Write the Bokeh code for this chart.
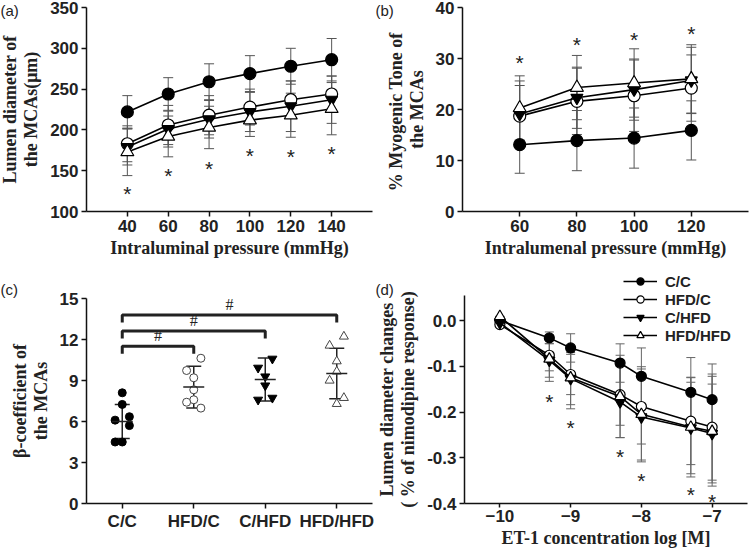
from bokeh.plotting import figure
from bokeh.models import (Range1d, FixedTicker, Whisker, TeeHead, ColumnDataSource,
                          Label, Legend, LegendItem, NumeralTickFormatter)
from bokeh.layouts import column, row
from bokeh.embed import file_html
from bokeh.resources import INLINE
from bokeh.core.properties import value

groups = ["C/C", "HFD/C", "C/HFD", "HFD/HFD"]

# ---------- panel (a) ----------
a_pressure = [40, 60, 80, 100, 120, 140]
a_cc = [222, 244, 259, 269, 278, 286]
a_cc_sd = [20, 20, 22, 22, 22, 26]
a_hfdc = [183, 206, 218, 228, 237, 244]
a_hfdc_sd = [22, 24, 24, 22, 23, 22]
a_chfd = [179, 201, 213, 222, 229, 237]
a_chfd_sd = [22, 22, 23, 24, 31, 29]
a_hfdhfd = [173, 192, 203, 212, 218, 226]
a_hfdhfd_sd = [29, 25, 26, 20, 27, 32]
a_star = [129, 151, 160, 176, 175, 178]
a_yticks = [100, 150, 200, 250, 300, 350]

# ---------- panel (b) ----------
b_pressure = [60, 80, 100, 120]
b_cc = [13.1, 13.9, 14.4, 15.9]
b_cc_sd = [5.6, 5.9, 5.9, 5.8]
b_hfdc = [18.7, 21.6, 22.7, 24.2]
b_hfdc_sd = [6.0, 6.5, 7.0, 6.5]
b_chfd = [19.1, 22.3, 23.9, 25.7]
b_chfd_sd = [6.5, 6.0, 6.0, 6.5]
b_hfdhfd = [20.3, 24.3, 25.2, 26.0]
b_hfdhfd_sd = [6.3, 6.3, 6.7, 6.7]
b_star = [30.3, 34.0, 35.0, 36.0]
b_yticks = [0, 10, 20, 30, 40]

# ---------- panel (c) ----------
c_cc = [8.1, 7.25, 6.1, 6.35, 5.7, 4.5, 4.5]
c_cc_jit = [0, 0, -1, 1, 1, -1, 0]
c_hfdc = [10.63, 9.73, 9.2, 8.32, 7.59, 7.41, 6.98]
c_hfdc_jit = [1, -1, 0, 0, 0, -1, 1]
c_chfd = [10.59, 9.93, 9.29, 8.63, 7.59, 7.73]
c_chfd_jit = [1, -1, 0, 0, -1, 1]
c_hfdhfd = [12.22, 11.56, 10.41, 9.66, 9.0, 7.73, 7.29]
c_hfdhfd_jit = [1, -1, 0, 0, -1, 1, 0]
c_mean = [6.0, 8.52, 9.07, 9.51]
c_sd = [1.25, 1.53, 1.57, 1.85]
c_bracket_to = [2, 3, 4]
c_bracket_level = [11.5, 12.63, 13.8]
c_yticks = [0, 3, 6, 9, 12, 15]

# ---------- panel (d) ----------
d_conc = [-10, -9.301, -9, -8.301, -8, -7.301, -7]
d_cc = [0.0, -0.038, -0.060, -0.093, -0.122, -0.157, -0.173]
d_cc_sd = [0, 0.013, 0.031, 0.042, 0.062, 0.076, 0.078]
d_hfdc = [-0.009, -0.076, -0.118, -0.162, -0.188, -0.220, -0.233]
d_hfdc_sd = [0, 0.034, 0.044, 0.067, 0.082, 0.095, 0.116]
d_chfd = [-0.005, -0.087, -0.127, -0.178, -0.211, -0.235, -0.247]
d_chfd_sd = [0, 0.037, 0.057, 0.078, 0.094, 0.100, 0.108]
d_hfdhfd = [0.009, -0.084, -0.125, -0.166, -0.205, -0.233, -0.242]
d_hfdhfd_sd = [0, 0.049, 0.068, 0.090, 0.104, 0.109, 0.120]
d_star_x = [-9.301, -9, -8.301, -8, -7.301, -7]
d_star = [-0.164, -0.220, -0.284, -0.336, -0.367, -0.382]
d_xticks = [-10, -9, -8, -7]
d_yticks = [-0.4, -0.3, -0.2, -0.1, 0.0]

STYLE = {
    "C/C": ("circle", "black"),
    "HFD/C": ("circle", "white"),
    "C/HFD": ("inverted_triangle", "black"),
    "HFD/HFD": ("triangle", "white"),
}

SANS = "Liberation Sans"
SERIF = "Liberation Serif"


def make_fig(W, H, box, xlim, ylim, ybounds=None):
    """Frame covers the whole canvas; axes are pinned at the plot-area edges."""
    L, R, T, B = box
    x0, x1 = xlim
    y0, y1 = ylim
    sx = (x1 - x0) / (R - L)
    sy = (y1 - y0) / (B - T)
    p = figure(width=W, height=H,
               x_range=Range1d(x0 - L * sx, x1 + (W - R) * sx),
               y_range=Range1d(y0 - (H - B) * sy, y1 + T * sy),
               output_backend="svg", toolbar_location=None, min_border=0)
    p.title.visible = False
    p.outline_line_color = None
    p.xgrid.visible = False
    p.ygrid.visible = False
    p.xaxis[0].fixed_location = y0
    p.xaxis[0].bounds = (x0, x1)
    p.yaxis[0].fixed_location = x0
    p.yaxis[0].bounds = ybounds if ybounds is not None else (y0, y1)
    for ax in (p.xaxis[0], p.yaxis[0]):
        ax.axis_line_width = 1.5
        ax.axis_line_color = "#111111"
        ax.major_tick_line_color = "#111111"
        ax.major_tick_line_width = 1.5
        ax.major_tick_out = 5
        ax.major_tick_in = 0
        ax.minor_tick_line_color = None
        ax.major_label_standoff = 3
        ax.major_label_text_font = SANS
        ax.major_label_text_font_style = "bold"
        ax.major_label_text_font_size = "17px"
        ax.major_label_text_color = "#222222"
        ax.axis_label_text_font = SERIF
        ax.axis_label_text_font_style = "bold"
        ax.axis_label_text_font_size = "18px"
        ax.axis_label_text_color = "#222222"
        ax.axis_label_standoff = 3
    p.yaxis[0].axis_label_text_line_height = 1.05
    p.yaxis[0].axis_label_standoff = 6

    def to_data(cx, cy):
        return (p.x_range.start + cx * sx, p.y_range.end - cy * sy)
    return p, to_data


def series(p, x, y, sd, grp, size, cap=10, err="#555555"):
    marker, fill = STYLE[grp]
    src = ColumnDataSource(dict(x=x, y=y,
                                lo=[v - s for v, s in zip(y, sd)],
                                hi=[v + s for v, s in zip(y, sd)]))
    wk = Whisker(base="x", upper="hi", lower="lo", source=src, level="underlay",
                 line_color=err, line_width=1,
                 upper_head=TeeHead(size=cap, line_color=err, line_width=1),
                 lower_head=TeeHead(size=cap, line_color=err, line_width=1))
    p.add_layout(wk)
    r1 = p.line("x", "y", source=src, line_color="black", line_width=1.6)
    r2 = p.scatter("x", "y", source=src, marker=marker, size=size,
                   fill_color=fill, line_color="black", line_width=1.2)
    return [r1, r2]


def stars(p, xs, ys, size="21px"):
    p.text(x=xs, y=ys, text=["*"] * len(xs), text_font=value(SANS),
           text_font_size=size, text_align="center", text_baseline="middle",
           y_offset=6, text_color="#222222")


def panel_label(p, to_data, txt, cx, cy):
    x, y = to_data(cx, cy)
    p.add_layout(Label(x=x, y=y, text=txt, text_font=SANS, text_font_size="15px",
                       text_align="left", text_baseline="top", text_color="#222222"))


W = 375
H1, H2 = 274, 276

# ---- (a)
pa, ta = make_fig(W, H1, (86, 372, 7, 211), (20, 160), (100, 350))
pa.xaxis[0].ticker = FixedTicker(ticks=a_pressure)
pa.yaxis[0].ticker = FixedTicker(ticks=a_yticks)
pa.xaxis[0].axis_label = "Intraluminal pressure (mmHg)"
pa.yaxis[0].axis_label = "Lumen diameter of\nthe MCAs(\u03bcm)"
series(pa, a_pressure, a_cc, a_cc_sd, "C/C", 12)
series(pa, a_pressure, a_hfdc, a_hfdc_sd, "HFD/C", 12)
series(pa, a_pressure, a_chfd, a_chfd_sd, "C/HFD", 12)
series(pa, a_pressure, a_hfdhfd, a_hfdhfd_sd, "HFD/HFD", 13)
stars(pa, a_pressure, a_star)
panel_label(pa, ta, "(a)", 0, 1)

# ---- (b)
pb, tb = make_fig(W, H1, (87, 373, 7, 211), (40, 140), (0, 40))
pb.xaxis[0].ticker = FixedTicker(ticks=b_pressure)
pb.yaxis[0].ticker = FixedTicker(ticks=b_yticks)
pb.xaxis[0].axis_label = "Intralumenal pressure (mmHg)"
pb.yaxis[0].axis_label = "%  Myogenic Tone of\nthe MCAs"
series(pb, b_pressure, b_cc, b_cc_sd, "C/C", 12)
series(pb, b_pressure, b_hfdc, b_hfdc_sd, "HFD/C", 12)
series(pb, b_pressure, b_chfd, b_chfd_sd, "C/HFD", 12)
series(pb, b_pressure, b_hfdhfd, b_hfdhfd_sd, "HFD/HFD", 13)
stars(pb, b_pressure, b_star)
panel_label(pb, tb, "(b)", 0, 1)

# ---- (c)
pc, tc = make_fig(W, H2, (86, 372, 24, 229), (0.5, 4.5), (0, 15))
pc.xaxis[0].ticker = FixedTicker(ticks=[1, 2, 3, 4])
pc.xaxis[0].major_label_overrides = {i + 1: g for i, g in enumerate(groups)}
pc.yaxis[0].ticker = FixedTicker(ticks=c_yticks)
pc.yaxis[0].axis_label = "\u03b2-coefficient of\nthe MCAs"
c_vals = [c_cc, c_hfdc, c_chfd, c_hfdhfd]
c_jits = [c_cc_jit, c_hfdc_jit, c_chfd_jit, c_hfdhfd_jit]
for i, g in enumerate(groups):
    marker, fill = STYLE[g]
    xs = [i + 1 + 0.1 * j for j in c_jits[i]]
    pc.scatter(xs, c_vals[i], marker=marker, size=9 if "triangle" in marker else 8,
               fill_color=fill, line_color="black" if fill == "black" else "#444444",
               line_width=1)
src_c = ColumnDataSource(dict(x=[1, 2, 3, 4], m=c_mean,
                              lo=[m - s for m, s in zip(c_mean, c_sd)],
                              hi=[m + s for m, s in zip(c_mean, c_sd)]))
pc.add_layout(Whisker(base="x", upper="hi", lower="lo", source=src_c, line_color="#222222",
                      line_width=1.5,
                      upper_head=TeeHead(size=15, line_color="#222222", line_width=1.5),
                      lower_head=TeeHead(size=15, line_color="#222222", line_width=1.5)))
pc.scatter("x", "m", source=src_c, marker="dash", size=21, line_color="#222222", line_width=1.5)
drop = 0.55
bx, by = [], []
for to, lv in zip(c_bracket_to, c_bracket_level):
    bx.append([1, 1, to, to])
    by.append([lv - drop, lv, lv, lv - drop])
pc.multi_line(bx, by, line_color="#222222", line_width=3)
pc.text(x=[(1 + t) / 2 for t in c_bracket_to], y=[lv + 0.15 for lv in c_bracket_level],
        text=["#"] * 3, text_font=value(SERIF), text_font_size="16px",
        text_align="center", text_baseline="bottom", text_color="#222222")
panel_label(pc, tc, "(c)", 0, 6)

# ---- (d)
pd, td = make_fig(W, H2, (89, 372, 46, 229), (-10.5, -6.5), (-0.4, 0.0),
                  ybounds=(-0.4, 0.055))
pd.xaxis[0].ticker = FixedTicker(ticks=d_xticks)
pd.yaxis[0].ticker = FixedTicker(ticks=d_yticks)
pd.yaxis[0].formatter = NumeralTickFormatter(format="0.0")
pd.xaxis[0].axis_label = "ET-1 concentration log [M]"
pd.xaxis[0].axis_label_standoff = 3
pd.xaxis[0].major_label_standoff = 2
pd.xaxis[0].major_tick_out = 4
pd.yaxis[0].axis_label = "Lumen diameter changes\n( % of nimodipine response)"
items = []
d_vals = [(d_cc, d_cc_sd), (d_hfdc, d_hfdc_sd), (d_chfd, d_chfd_sd), (d_hfdhfd, d_hfdhfd_sd)]
for g, (v, s) in zip(groups, d_vals):
    rs = series(pd, d_conc, v, s, g, 11 if "triangle" in STYLE[g][0] else 10, cap=9, err="#666666")
    items.append(LegendItem(label=g, renderers=rs))
stars(pd, d_star_x, d_star)
leg = Legend(items=items, location=(248, H2 - 70), padding=0, margin=0, spacing=0,
             glyph_width=34, glyph_height=18, label_height=18, label_standoff=8,
             label_text_font=SANS, label_text_font_style="bold", label_text_font_size="15px",
             label_text_color="#222222", background_fill_alpha=0, border_line_color=None)
pd.add_layout(leg)
panel_label(pd, td, "(d)", 0, 6)

layout = column(row(pa, pb), row(pc, pd))
open("out.html", "w").write(file_html(layout, INLINE))
